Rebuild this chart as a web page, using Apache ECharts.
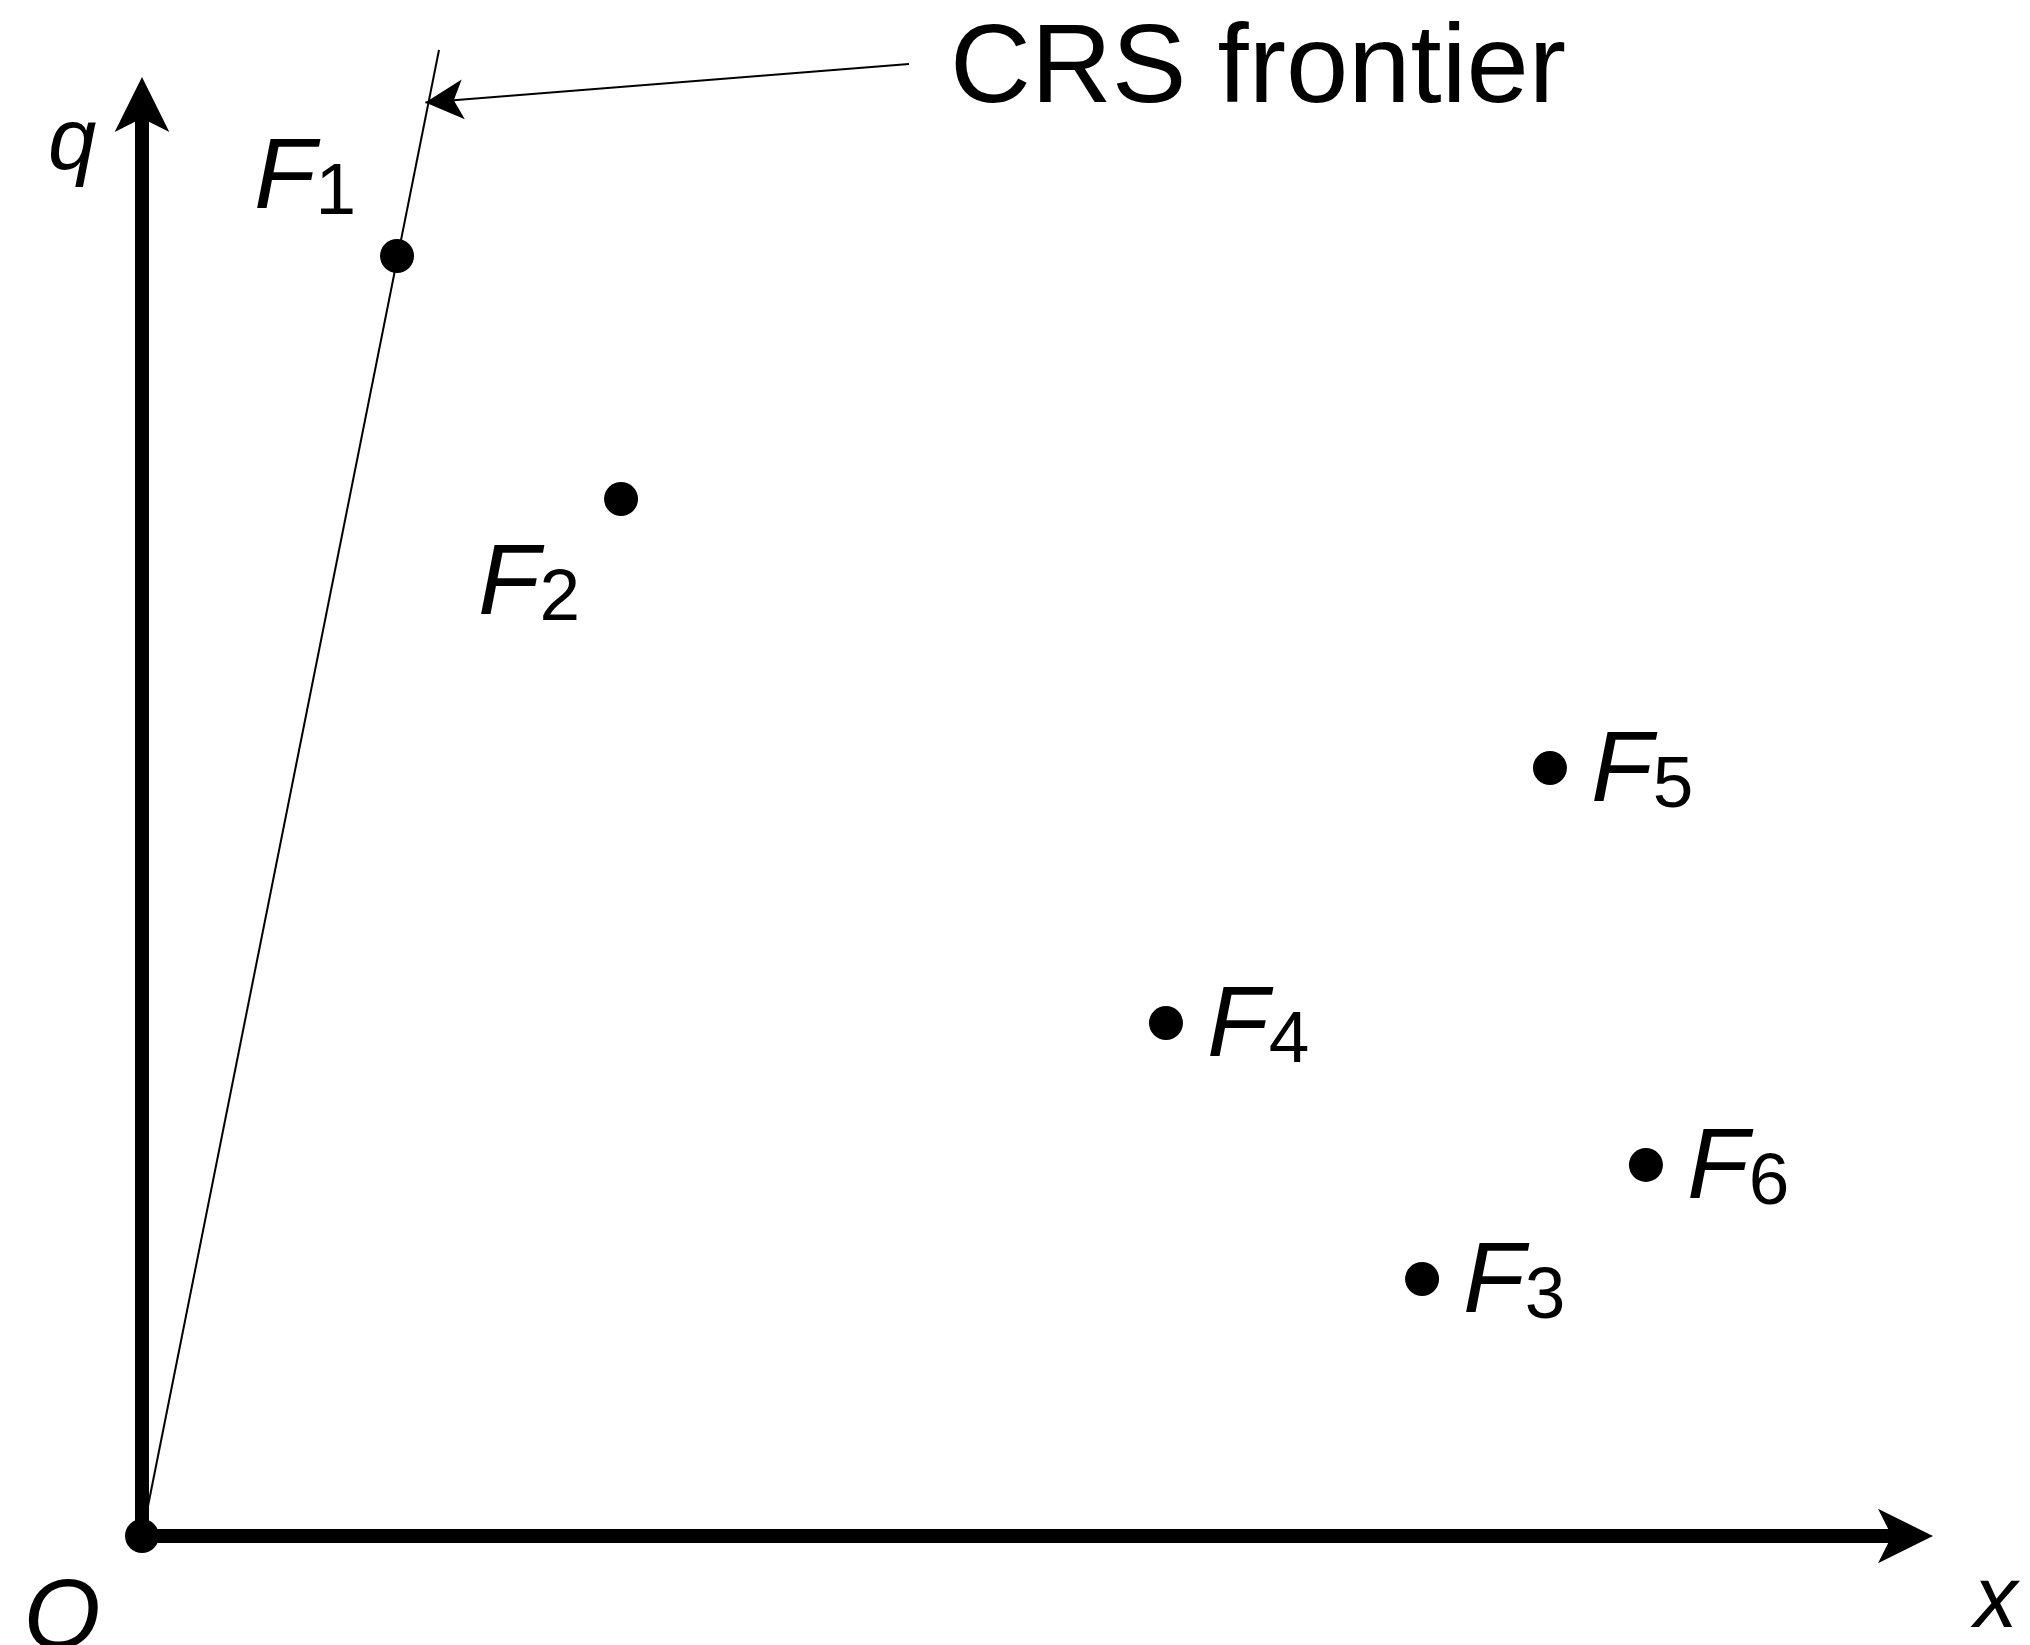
<!DOCTYPE html>
<html><head><meta charset="utf-8">
<script src="https://cdn.jsdelivr.net/npm/echarts@6/dist/echarts.min.js"></script>
<style>html,body{margin:0;padding:0;background:#fff}#c{width:2030px;height:1645px}</style>
</head><body><div id="c"></div>
<script>
// ---- data ----
const firmNames = ['F1', 'F2', 'F3', 'F4', 'F5', 'F6'];
const firmInput = [1.44, 2.705, 7.228, 5.782, 7.95, 8.492];   // x
const firmOutput = [7.116, 5.765, 1.429, 2.852, 4.27, 2.063]; // q
const originPoint = [0, 0];
const originName = 'O';
const frontierX = [0, 1.677];
const frontierY = [0, 8.261];
const calloutFrom = [4.331, 8.183];
const calloutTo = [1.60, 7.97];
const calloutText = 'CRS frontier';
const xAxisName = 'x';
const yAxisName = 'q';

// ---- styles / placement ----
const FONT = '"Liberation Sans", Arial, sans-serif';
const labelPlace = {
  F1: { position: 'inside', offset: [-92, -107] },
  F2: { position: 'inside', offset: [-92, 56] },
  F3: { position: 'right', distance: 24, offset: [0, -26] },
  F4: { position: 'right', distance: 24, offset: [0, -26] },
  F5: { position: 'right', distance: 24, offset: [0, -26] },
  F6: { position: 'right', distance: 24, offset: [0, -26] }
};

const firmData = firmNames.map((n, i) => ({
  name: n,
  value: [firmInput[i], firmOutput[i]],
  label: labelPlace[n]
}));

const axisCommon = {
  type: 'value',
  axisLine: { show: true, onZero: false, symbol: ['none', 'arrow'], symbolSize: [41, 55],
              symbolOffset: [0, 20],
              lineStyle: { color: '#000', width: 14 } },
  axisTick: { show: false },
  axisLabel: { show: false },
  splitLine: { show: false }
};

const chart = echarts.init(document.getElementById('c'), null, { renderer: 'canvas' });
chart.setOption({
  animation: false,
  backgroundColor: '#fff',
  grid: { left: 142, right: 117, top: 97, bottom: 109 },
  xAxis: Object.assign({}, axisCommon, { min: 0, max: 10 }),
  yAxis: Object.assign({}, axisCommon, { min: 0, max: 8 }),
  graphic: [
    { type: 'text', x: 48, y: 145, z: 10,
      style: { text: yAxisName, font: 'italic 87px ' + FONT, fill: '#000',
               textAlign: 'left', textVerticalAlign: 'middle' } },
    { type: 'text', x: 1974, y: 1603, z: 10,
      style: { text: xAxisName, font: 'italic 87px ' + FONT, fill: '#000',
               textAlign: 'left', textVerticalAlign: 'middle' } },
    { type: 'text', x: 950, y: 71, z: 10,
      style: { text: calloutText, font: '112px ' + FONT, fill: '#000',
               textAlign: 'left', textVerticalAlign: 'middle' } }
  ],
  series: [
    {
      type: 'line',
      data: frontierX.map((x, i) => [x, frontierY[i]]),
      symbol: 'none',
      clip: false,
      lineStyle: { color: '#000', width: 2, opacity: 1 },
      z: 2
    },
    {
      type: 'lines',
      coordinateSystem: 'cartesian2d',
      clip: false,
      data: [{ coords: [calloutFrom, calloutTo] }],
      symbol: ['none', 'arrow'],
      symbolSize: [0, [30, 38]],
      lineStyle: { color: '#000', width: 2, opacity: 1 },
      z: 3
    },
    {
      type: 'scatter',
      data: firmData,
      symbol: 'circle',
      symbolSize: 34,
      clip: false,
      itemStyle: { color: '#000', opacity: 1 },
      label: {
        show: true,
        color: '#000',
        opacity: 1,
        formatter: p => '{f|F}{s|' + p.name.slice(1) + '}',
        rich: {
          f: { fontFamily: FONT, fontStyle: 'italic', fontSize: 101, lineHeight: 162,
               verticalAlign: 'bottom', color: '#000' },
          s: { fontFamily: FONT, fontSize: 73, lineHeight: 71,
               verticalAlign: 'bottom', color: '#000' }
        }
      },
      z: 5
    },
    {
      type: 'scatter',
      data: [{ name: originName, value: originPoint }],
      symbol: 'circle',
      symbolSize: 34,
      clip: false,
      itemStyle: { color: '#000', opacity: 1 },
      label: {
        show: true, position: 'inside', offset: [-80, 84],
        formatter: p => p.name,
        fontFamily: FONT, fontStyle: 'italic', fontSize: 99, color: '#000', opacity: 1
      },
      z: 5
    }
  ]
});
</script>
</body></html>
